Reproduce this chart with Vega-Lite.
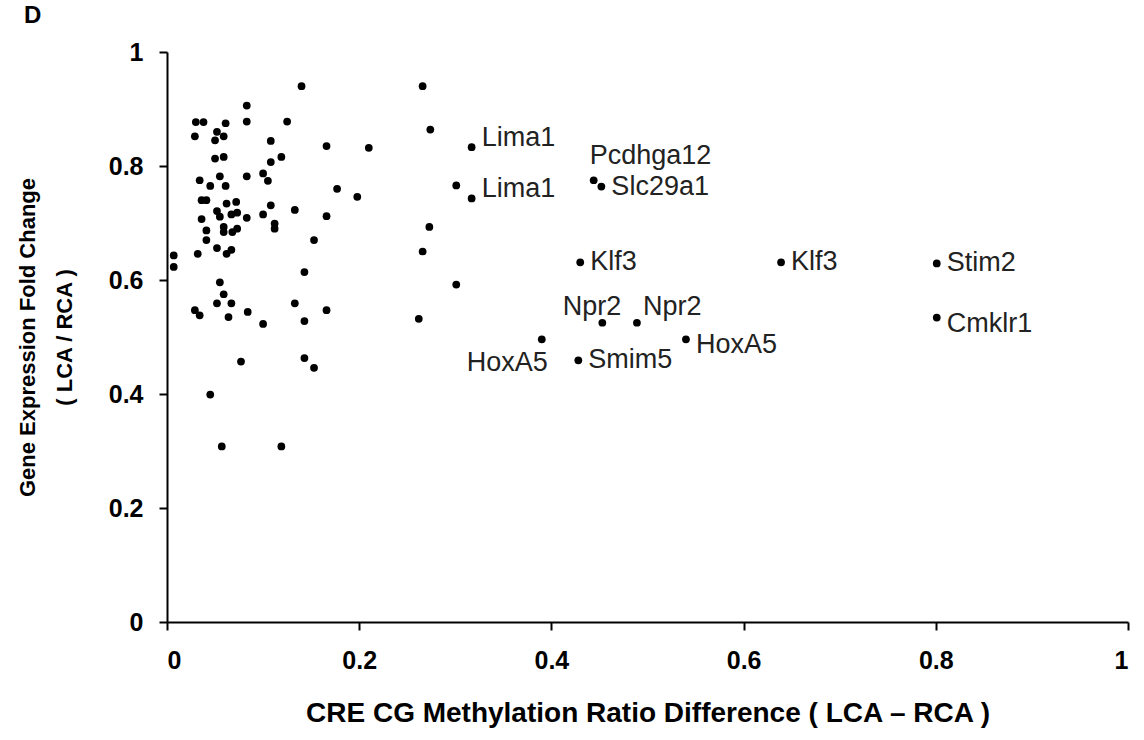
{
  "$schema": "https://vega.github.io/schema/vega-lite/v6.json",
  "autosize": "none",
  "width": 961,
  "height": 570,
  "padding": {"left": 167, "top": 52, "right": 16, "bottom": 118},
  "background": "white",
  "config": {
    "view": {"stroke": null},
    "font": "Liberation Sans",
    "axis": {"grid": false, "domainColor": "black", "domainWidth": 2, "tickColor": "black", "tickWidth": 2, "tickSize": 8, "labelFont": "Liberation Sans", "labelFontWeight": "bold", "labelFontSize": 25, "labelColor": "black", "titleFont": "Liberation Sans", "titleFontWeight": "bold", "titleColor": "black"}
  },
  "title": {"text": "D", "anchor": "start", "frame": "group", "fontSize": 24, "fontWeight": "bold", "font": "Liberation Sans", "color": "black", "dx": -143, "offset": 12},
  "datasets": {
    "pts": [
      {"x": 0.140, "y": 0.940}, {"x": 0.083, "y": 0.906}, {"x": 0.030, "y": 0.877}, {"x": 0.038, "y": 0.877},
      {"x": 0.061, "y": 0.875}, {"x": 0.083, "y": 0.878}, {"x": 0.125, "y": 0.878}, {"x": 0.029, "y": 0.852},
      {"x": 0.052, "y": 0.860}, {"x": 0.059, "y": 0.852}, {"x": 0.050, "y": 0.845}, {"x": 0.108, "y": 0.844},
      {"x": 0.166, "y": 0.835}, {"x": 0.050, "y": 0.813}, {"x": 0.059, "y": 0.816}, {"x": 0.119, "y": 0.816},
      {"x": 0.108, "y": 0.807}, {"x": 0.055, "y": 0.782}, {"x": 0.083, "y": 0.782}, {"x": 0.100, "y": 0.787},
      {"x": 0.105, "y": 0.774}, {"x": 0.034, "y": 0.775}, {"x": 0.045, "y": 0.765}, {"x": 0.061, "y": 0.765},
      {"x": 0.177, "y": 0.760}, {"x": 0.198, "y": 0.746}, {"x": 0.036, "y": 0.740}, {"x": 0.041, "y": 0.740},
      {"x": 0.062, "y": 0.734}, {"x": 0.072, "y": 0.737}, {"x": 0.108, "y": 0.731}, {"x": 0.133, "y": 0.723},
      {"x": 0.052, "y": 0.721}, {"x": 0.055, "y": 0.711}, {"x": 0.067, "y": 0.715}, {"x": 0.073, "y": 0.718},
      {"x": 0.083, "y": 0.709}, {"x": 0.100, "y": 0.715}, {"x": 0.166, "y": 0.712}, {"x": 0.036, "y": 0.707},
      {"x": 0.112, "y": 0.699}, {"x": 0.112, "y": 0.690}, {"x": 0.059, "y": 0.693}, {"x": 0.059, "y": 0.684},
      {"x": 0.068, "y": 0.684}, {"x": 0.073, "y": 0.690}, {"x": 0.041, "y": 0.687}, {"x": 0.041, "y": 0.670},
      {"x": 0.153, "y": 0.670}, {"x": 0.052, "y": 0.656}, {"x": 0.062, "y": 0.646}, {"x": 0.067, "y": 0.653},
      {"x": 0.032, "y": 0.646}, {"x": 0.007, "y": 0.643}, {"x": 0.007, "y": 0.623}, {"x": 0.143, "y": 0.614},
      {"x": 0.055, "y": 0.596}, {"x": 0.059, "y": 0.575}, {"x": 0.052, "y": 0.559}, {"x": 0.067, "y": 0.559},
      {"x": 0.133, "y": 0.559}, {"x": 0.029, "y": 0.547}, {"x": 0.034, "y": 0.538}, {"x": 0.064, "y": 0.535},
      {"x": 0.084, "y": 0.544}, {"x": 0.166, "y": 0.547}, {"x": 0.143, "y": 0.528}, {"x": 0.100, "y": 0.523},
      {"x": 0.077, "y": 0.457}, {"x": 0.143, "y": 0.463}, {"x": 0.153, "y": 0.446}, {"x": 0.045, "y": 0.399},
      {"x": 0.057, "y": 0.308}, {"x": 0.119, "y": 0.308}, {"x": 0.266, "y": 0.940}, {"x": 0.274, "y": 0.864},
      {"x": 0.210, "y": 0.832}, {"x": 0.301, "y": 0.766}, {"x": 0.273, "y": 0.693}, {"x": 0.266, "y": 0.650},
      {"x": 0.301, "y": 0.592}, {"x": 0.262, "y": 0.532},
      {"x": 0.317, "y": 0.833, "gene": "Lima1"}, {"x": 0.317, "y": 0.743, "gene": "Lima1"},
      {"x": 0.444, "y": 0.775, "gene": "Pcdhga12"}, {"x": 0.452, "y": 0.764, "gene": "Slc29a1"},
      {"x": 0.430, "y": 0.631, "gene": "Klf3"}, {"x": 0.639, "y": 0.631, "gene": "Klf3"},
      {"x": 0.801, "y": 0.629, "gene": "Stim2"}, {"x": 0.453, "y": 0.525, "gene": "Npr2"},
      {"x": 0.489, "y": 0.525, "gene": "Npr2"}, {"x": 0.390, "y": 0.496, "gene": "HoxA5"},
      {"x": 0.540, "y": 0.496, "gene": "HoxA5"}, {"x": 0.428, "y": 0.459, "gene": "Smim5"},
      {"x": 0.801, "y": 0.534, "gene": "Cmklr1"}
    ]
  },
  "data": {"name": "pts"},
  "encoding": {
    "x": {"field": "x", "type": "quantitative", "scale": {"domain": [0, 1], "nice": false},
      "axis": {"values": [0, 0.2, 0.4, 0.6, 0.8, 1], "format": "~g", "labelPadding": 18, "title": "CRE CG Methylation Ratio Difference ( LCA – RCA )", "titleFontSize": 28, "titlePadding": 26}},
    "y": {"field": "y", "type": "quantitative", "scale": {"domain": [0, 1], "nice": false},
      "axis": {"values": [0, 0.2, 0.4, 0.6, 0.8, 1], "format": "~g", "labelPadding": 16, "title": ["Gene Expression Fold Change", "( LCA / RCA )"], "titleFontSize": 22, "titleLineHeight": 37, "titlePadding": 32}}
  },
  "layer": [
    {"mark": {"type": "point", "filled": true, "shape": "circle", "size": 60, "color": "black", "opacity": 1}},
    {"transform": [{"filter": "datum.gene == 'Lima1'"}],
     "mark": {"type": "text", "align": "left", "baseline": "middle", "dx": 10, "dy": -9, "fontSize": 27, "font": "Liberation Sans", "color": "#222"},
     "encoding": {"text": {"field": "gene"}}},
    {"transform": [{"filter": "datum.gene == 'Klf3' || datum.gene == 'Stim2' || datum.gene == 'Slc29a1' || datum.gene == 'Smim5'"}],
     "mark": {"type": "text", "align": "left", "baseline": "middle", "dx": 10, "dy": 0, "fontSize": 27, "font": "Liberation Sans", "color": "#222"},
     "encoding": {"text": {"field": "gene"}}},
    {"transform": [{"filter": "datum.gene == 'Cmklr1' || (datum.gene == 'HoxA5' && datum.x > 0.45)"}],
     "mark": {"type": "text", "align": "left", "baseline": "middle", "dx": 10, "dy": 6, "fontSize": 27, "font": "Liberation Sans", "color": "#222"},
     "encoding": {"text": {"field": "gene"}}},
    {"transform": [{"filter": "datum.gene == 'Pcdhga12'"}],
     "mark": {"type": "text", "align": "left", "baseline": "middle", "dx": -4, "dy": -24, "fontSize": 27, "font": "Liberation Sans", "color": "#222"},
     "encoding": {"text": {"field": "gene"}}},
    {"transform": [{"filter": "datum.gene == 'Npr2' && datum.x < 0.47"}],
     "mark": {"type": "text", "align": "right", "baseline": "middle", "dx": 19, "dy": -16, "fontSize": 27, "font": "Liberation Sans", "color": "#222"},
     "encoding": {"text": {"field": "gene"}}},
    {"transform": [{"filter": "datum.gene == 'Npr2' && datum.x > 0.47"}],
     "mark": {"type": "text", "align": "left", "baseline": "middle", "dx": 6, "dy": -16, "fontSize": 27, "font": "Liberation Sans", "color": "#222"},
     "encoding": {"text": {"field": "gene"}}},
    {"transform": [{"filter": "datum.gene == 'HoxA5' && datum.x < 0.45"}],
     "mark": {"type": "text", "align": "right", "baseline": "middle", "dx": 6, "dy": 24, "fontSize": 27, "font": "Liberation Sans", "color": "#222"},
     "encoding": {"text": {"field": "gene"}}}
  ]
}
